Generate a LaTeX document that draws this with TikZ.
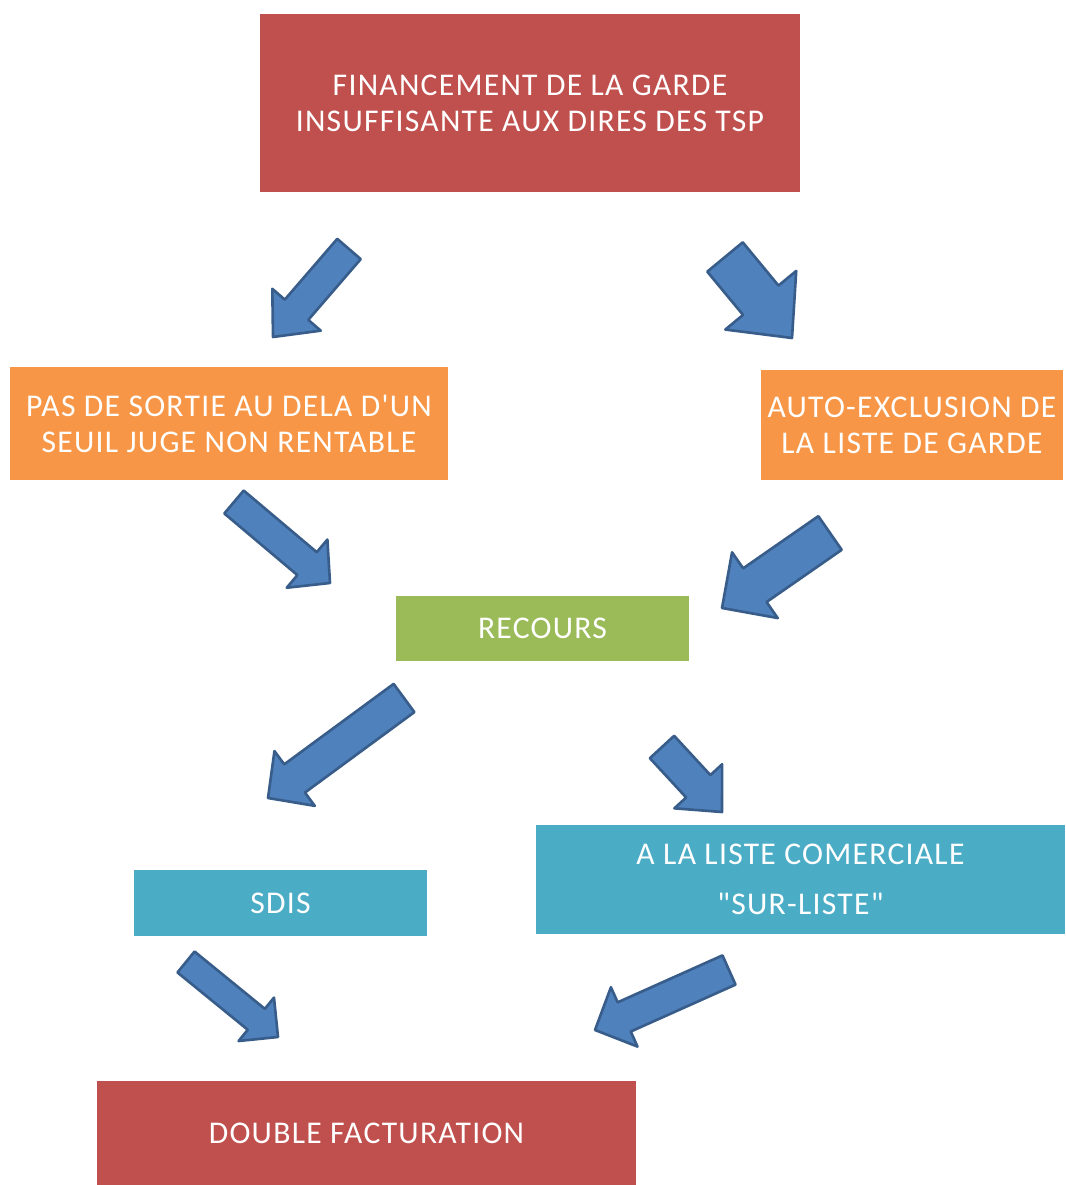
\documentclass[tikz,border=0pt]{standalone}
\usepackage{fontspec}
\setmainfont{Carlito}[LetterSpace=4.0, Ligatures=TeXOff]
\usetikzlibrary{calc}

\definecolor{boxred}{HTML}{C0504D}
\definecolor{boxorange}{HTML}{F79646}
\definecolor{boxgreen}{HTML}{9BBB59}
\definecolor{boxblue}{HTML}{4BACC6}
\definecolor{arrowblue}{HTML}{4F81BD}
\definecolor{arrowline}{HTML}{385D8A}

\tikzset{
	box/.style={inner sep=0pt, align=center, text=white, font=\fontsize{18}{20.5}\selectfont},
	redbox/.style={box, fill=boxred},
	orangebox/.style={box, fill=boxorange},
	greenbox/.style={box, fill=boxgreen},
	bluebox/.style={box, fill=boxblue},
	arrowfill/.style={fill=arrowblue, draw=arrowline, line width=1.5pt, line join=round}
}

% #1 tail, #2 tip, #3 shaft half width, #4 head half width, #5 head length (px)
\newcommand{\blockarrow}[5]{%
	\path ($(#2)!{#5*0.02cm}!(#1)$) coordinate (hb);
	\filldraw[arrowfill] ($(#1)!{#3*0.02cm}!90:(#2)$) -- ($(hb)!{#3*0.02cm}!90:(#2)$)
		-- ($(hb)!{#4*0.02cm}!90:(#2)$) -- (#2) -- ($(hb)!{#4*0.02cm}!-90:(#2)$)
		-- ($(hb)!{#3*0.02cm}!-90:(#2)$) -- ($(#1)!{#3*0.02cm}!-90:(#2)$) -- cycle;
}

\begin{document}
\begin{tikzpicture}[x=0.02cm, y=-0.02cm]
	\useasboundingbox (0,0) rectangle (1065,1185);

	\node[redbox, minimum width=10.8cm, minimum height=3.56cm] (finance) at (530,103)
		{FINANCEMENT DE LA GARDE\\INSUFFISANTE AUX DIRES DES TSP};
	\node[orangebox, minimum width=8.76cm, minimum height=2.26cm] (sortie) at (229,423.5)
		{PAS DE SORTIE AU DELA D'UN\\SEUIL JUGE NON RENTABLE};
	\node[orangebox, minimum width=6.04cm, minimum height=2.2cm] (exclusion) at (912,425)
		{AUTO-EXCLUSION DE\\LA LISTE DE GARDE};
	\node[greenbox, minimum width=5.86cm, minimum height=1.3cm] (recours) at (542.5,628.5)
		{RECOURS};
	\node[bluebox, minimum width=5.86cm, minimum height=1.32cm] (sdis) at (280.5,903)
		{SDIS};
	\node[bluebox, minimum width=10.58cm, minimum height=2.18cm] (liste) at (800.5,879.5)
		{A LA LISTE COMERCIALE\\[8pt]"SUR-LISTE"};
	\node[redbox, minimum width=10.78cm, minimum height=2.08cm] (facturation) at (366.5,1133)
		{DOUBLE FACTURATION};

	\coordinate (fs1) at (349,249);   \coordinate (fs2) at (273,337);
	\coordinate (fe1) at (725,257);   \coordinate (fe2) at (792,338);
	\coordinate (sr1) at (234,502);   \coordinate (sr2) at (330,583);
	\coordinate (er1) at (830,533);   \coordinate (er2) at (722,608);
	\coordinate (rs1) at (404,698);   \coordinate (rs2) at (268,798);
	\coordinate (rl1) at (662,747);   \coordinate (rl2) at (722,812);
	\coordinate (sf1) at (186,962);   \coordinate (sf2) at (278,1037);
	\coordinate (lf1) at (729,970);   \coordinate (lf2) at (595,1030);

	\blockarrow{fs1}{fs2}{15.5}{32}{36}
	\blockarrow{fe1}{fe2}{23}{46}{49}
	\blockarrow{sr1}{sr2}{15}{31.5}{30}
	\blockarrow{er1}{er2}{20.5}{40}{40}
	\blockarrow{rs1}{rs2}{17.5}{34}{33}
	\blockarrow{rl1}{rl2}{16.5}{32.5}{35}
	\blockarrow{sf1}{sf2}{13.5}{28}{28}
	\blockarrow{lf1}{lf2}{16}{32.5}{32}
\end{tikzpicture}
\end{document}
